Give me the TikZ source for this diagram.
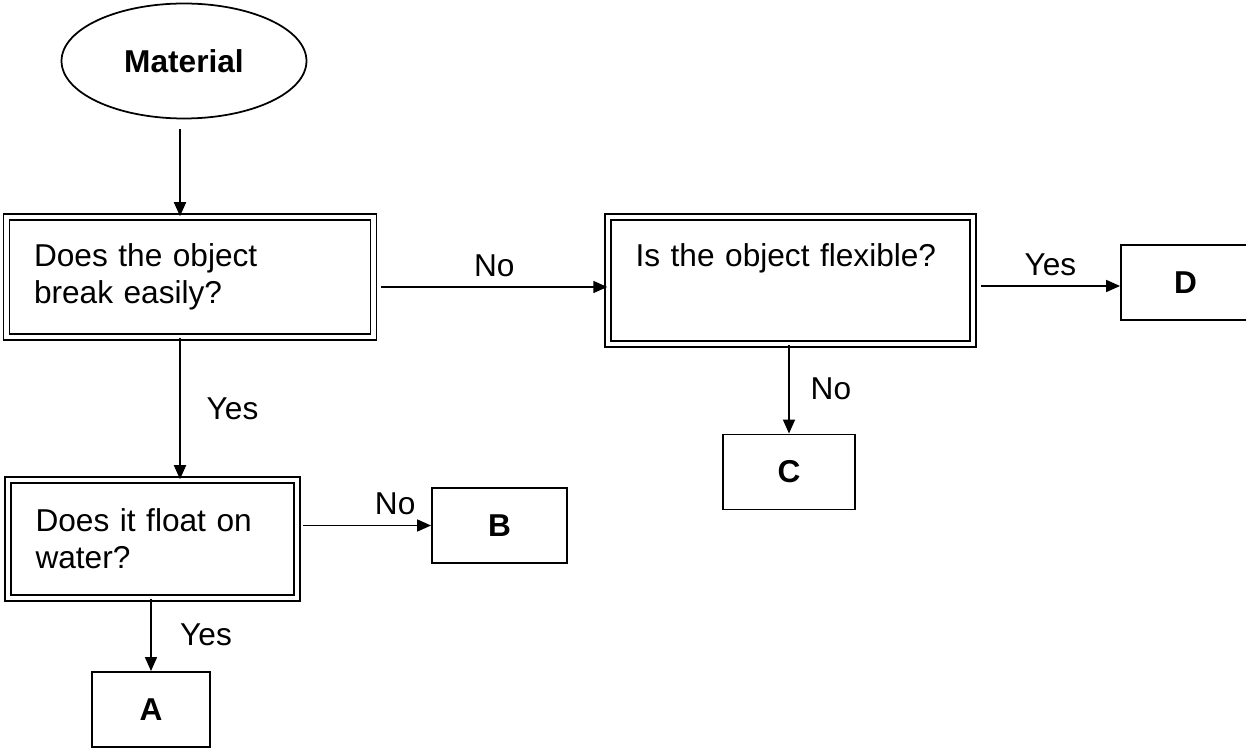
\documentclass[tikz,border=0pt]{standalone}
\usepackage{fontspec}
\setmainfont{Liberation Sans}
\usetikzlibrary{arrows.meta,shapes.geometric}
\newcommand{\flowfont}{\fontsize{18}{21}\selectfont}

\begin{document}
\begin{tikzpicture}[x=0.02cm,y=-0.02cm,qbox/.style={draw,double,line width=.9pt,double distance=2.5pt,align=left,inner xsep=.55cm,font=\flowfont},ans/.style={draw,line width=1.1pt,minimum height=1.5cm,font=\flowfont\bfseries},lbl/.style={font=\flowfont},arr/.style={-{Triangle[length=.28cm,width=.24cm]},line width=1pt}]

\clip (0,0) rectangle (1246,749);
\node[draw,ellipse,line width=1pt,minimum width=4.9cm,minimum height=2.3cm,font=\flowfont\bfseries] (mat) at(184,61) {Material};
\node[qbox,text width=6.24cm,minimum width=7.34cm,minimum height=2.4cm] (qbreak) at(190,277) {Does the object\\break easily?};
\node[qbox,text width=6.2cm,minimum width=7.3cm,minimum height=2.54cm] (qflex) at(790.5,280.5) {Is the object flexible?\\[8pt]\mbox{}};
\node[qbox,text width=4.68cm,minimum width=5.78cm,minimum height=2.36cm] (qfloat) at(152.5,539) {Does it float on\\water?};
\node[ans,minimum width=2.36cm] (ansA) at(151,709.5) {A};
\node[ans,minimum width=2.7cm] (ansB) at(499.5,525.5) {B};
\node[ans,minimum width=2.64cm] (ansC) at(789,472) {C};
\node[ans,minimum width=2.58cm] (ansD) at(1185.5,282.5) {D};

\draw[arr,shorten <=.2cm] (mat.south -| 180,0) -- (qbreak.north -| 180,0);
\draw[arr] ([xshift=.14cm]qbreak.east |- 0,287) -- node[lbl,above=2pt] {No} (qflex.west |- 0,287);
\draw[arr] ([xshift=.14cm]qflex.east |- 0,286) -- node[lbl,above=2pt] {Yes} (ansD.west |- 0,286);
\draw[arr] (ansC.north |- qflex.south) -- node[lbl,right=.3cm] {No} (ansC.north);
\draw[arr] (qbreak.south -| 180,0) -- node[lbl,right=.4cm] {Yes} (qfloat.north -| 180,0);
\draw[arr] ([xshift=.1cm]qfloat.east |- ansB.west) -- node[lbl,above=2pt,pos=.72] {No} (ansB.west);
\draw[arr] (ansA.north |- qfloat.south) -- node[lbl,right=.45cm] {Yes} (ansA.north);
\end{tikzpicture}
\end{document}
